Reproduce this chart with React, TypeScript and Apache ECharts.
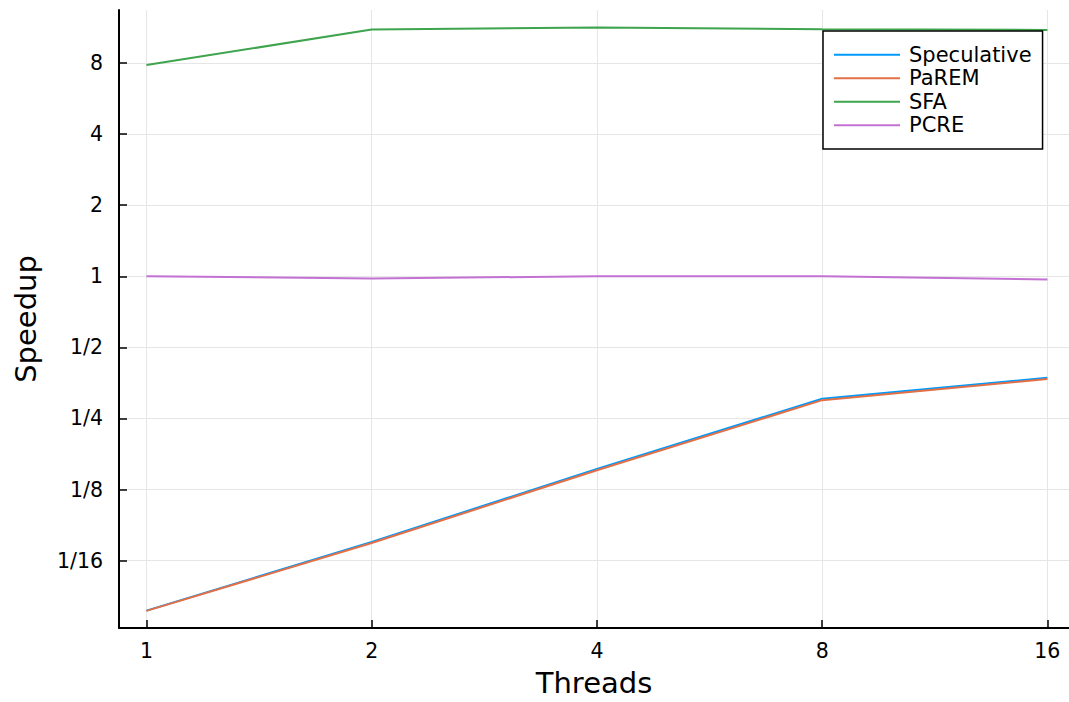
import React, { useEffect, useRef } from "react";
import * as echarts from "echarts";

const threads = [1, 2, 4, 8, 16];
const speculative = [0.0384, 0.075, 0.153, 0.303, 0.372];
const parem = [0.0383, 0.0743, 0.151, 0.299, 0.367];
const sfa = [7.84, 11.09, 11.3, 11.12, 11.05];
const pcre = [1.0, 0.98, 1.0, 1.0, 0.97];
const seriesNames = ["Speculative", "PaREM", "SFA", "PCRE"];
const seriesValues = [speculative, parem, sfa, pcre];
const colors = ["#009AFA", "#E36F47", "#3EA44E", "#C371D2"];
const xTickExps = [0, 1, 2, 3, 4];
const yTickExps = [-4, -3, -2, -1, 0, 1, 2, 3];

const FONT = "DejaVu Sans";

function fmtPow(v: number): string {
  const r = Math.round(v);
  if (r >= 0) return String(Math.pow(2, r));
  return "1/" + Math.pow(2, -r);
}

export default function App() {
  const ref = useRef<HTMLDivElement>(null);
  useEffect(() => {
    if (!ref.current) return;
    const chart = echarts.init(ref.current, null, { renderer: "svg" });
    const axisCommon = {
      type: "value" as const,
      nameLocation: "middle" as const,
      nameTextStyle: { fontFamily: FONT, fontSize: 29, color: "#000" },
      axisLine: { show: true, onZero: false, lineStyle: { color: "#000", width: 2 } },
      axisTick: { show: true, inside: true, length: 8, lineStyle: { color: "#000", width: 1.5 } },
      splitLine: { show: true, lineStyle: { color: "#e6e6e6", width: 1 } },
    };
    chart.setOption({
      animation: false,
      backgroundColor: "#fff",
      color: colors,
      grid: { left: 119, right: 0, top: 10, bottom: 67, containLabel: false },
      xAxis: {
        ...axisCommon,
        name: "Threads",
        nameGap: 40,
        min: -0.122,
        max: 4.096,
        axisTick: { ...axisCommon.axisTick, customValues: xTickExps },
        axisLabel: {
          customValues: xTickExps,
          formatter: (v: number) => fmtPow(v),
          fontFamily: FONT,
          fontSize: 20.5,
          color: "#000",
          margin: 12,
        },
      },
      yAxis: {
        ...axisCommon,
        name: "Speedup",
        nameGap: 79,
        min: -4.947,
        max: 3.746,
        axisTick: { ...axisCommon.axisTick, customValues: yTickExps },
        axisLabel: {
          customValues: yTickExps,
          formatter: (v: number) => fmtPow(v),
          fontFamily: FONT,
          fontSize: 20.5,
          color: "#000",
          margin: 16,
        },
      },
      legend: {
        orient: "vertical",
        left: 823,
        top: 31,
        padding: [12, 11, 12, 11],
        backgroundColor: "#fff",
        borderColor: "#000",
        borderWidth: 1.5,
        borderRadius: 0,
        icon: "rect",
        itemWidth: 66,
        itemHeight: 2,
        itemGap: 0,
        textStyle: { fontFamily: FONT, fontSize: 21, lineHeight: 23.5, color: "#000", padding: [0, 0, 0, 4] },
        data: seriesNames,
      },
      series: seriesNames.map((name, i) => ({
        name,
        type: "line",
        showSymbol: false,
        symbol: "none",
        lineStyle: { width: 2, color: colors[i] },
        itemStyle: { color: colors[i] },
        data: threads.map((t, j) => [Math.log2(t), Math.log2(seriesValues[i][j])]),
      })),
    });
    return () => chart.dispose();
  }, []);
  return <div ref={ref} style={{ position: "absolute", left: 0, top: 0, width: 1069, height: 702 }} />;
}
